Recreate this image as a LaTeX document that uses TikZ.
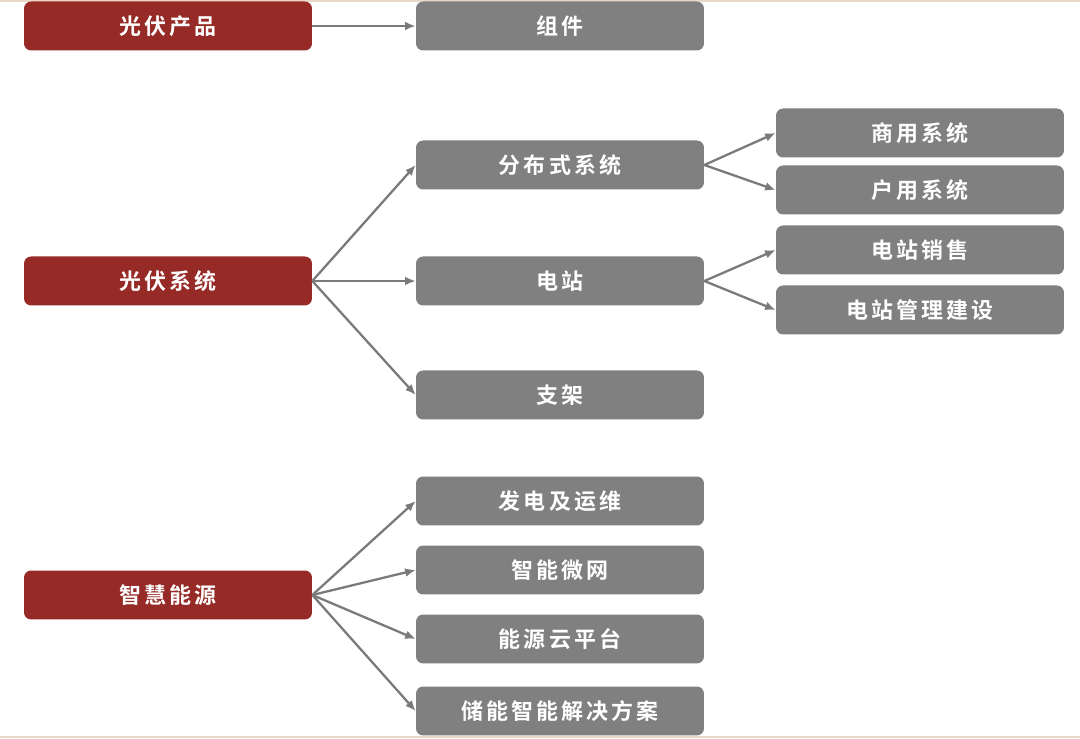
\documentclass[tikz,border=0pt]{standalone}
\usepackage{fontspec}
\newfontfamily\cjk[LetterSpace=14]{Noto Sans CJK SC Bold}
\usetikzlibrary{arrows.meta}
\definecolor{boxred}{RGB}{150,42,38}
\definecolor{boxgray}{RGB}{128,128,128}
\definecolor{arrowgray}{RGB}{122,122,122}
\definecolor{edgetan}{RGB}{232,216,200}
\tikzset{
  catbox/.style={draw=none, fill=boxred, rounded corners=4pt, minimum width=5.76cm, minimum height=0.98cm, text=white, font=\cjk\fontsize{12.5}{14}\selectfont},
  itembox/.style={catbox, fill=boxgray},
  link/.style={->, arrowgray, line width=1.3pt}
}
\begin{document}
\begin{tikzpicture}[x=0.02cm, y=-0.02cm, >={Latex[length=6pt,width=5pt]}]
  \useasboundingbox (0,0) rectangle (1080,739);
  % Page edges
  \draw[edgetan, line width=0.8pt] (0,1) -- (1080,1);
  \draw[edgetan, line width=0.8pt] (0,737) -- (1080,737);

  % Categories
  \node[catbox] (pvprod) at (168,26) {光伏产品};
  \node[catbox] (pvsys) at (168,281) {光伏系统};
  \node[catbox] (smart) at (168,595) {智慧能源};

  % Second level
  \node[itembox] (module) at (560,26) {组件};
  \node[itembox] (distrib) at (560,165) {分布式系统};
  \node[itembox] (station) at (560,281) {电站};
  \node[itembox] (bracket) at (560,395) {支架};
  \node[itembox] (genop) at (560,501) {发电及运维};
  \node[itembox] (microgrid) at (560,570) {智能微网};
  \node[itembox] (cloud) at (560,639) {能源云平台};
  \node[itembox] (storage) at (560,711) {储能智能解决方案};

  % Third level
  \node[itembox] (commercial) at (920,133) {商用系统};
  \node[itembox] (household) at (920,190) {户用系统};
  \node[itembox] (sales) at (920,250) {电站销售};
  \node[itembox] (manage) at (920,310) {电站管理建设};

  % Links
  \draw[link] (pvprod.east) -- (module.west);
  \foreach \t in {distrib, station, bracket}
    \draw[link] (pvsys.east) -- (\t.west);
  \foreach \t in {genop, microgrid, cloud, storage}
    \draw[link] (smart.east) -- (\t.west);
  \draw[link] (distrib.east) -- (commercial.west);
  \draw[link] (distrib.east) -- (household.west);
  \draw[link] (station.east) -- (sales.west);
  \draw[link] (station.east) -- (manage.west);
\end{tikzpicture}
\end{document}
